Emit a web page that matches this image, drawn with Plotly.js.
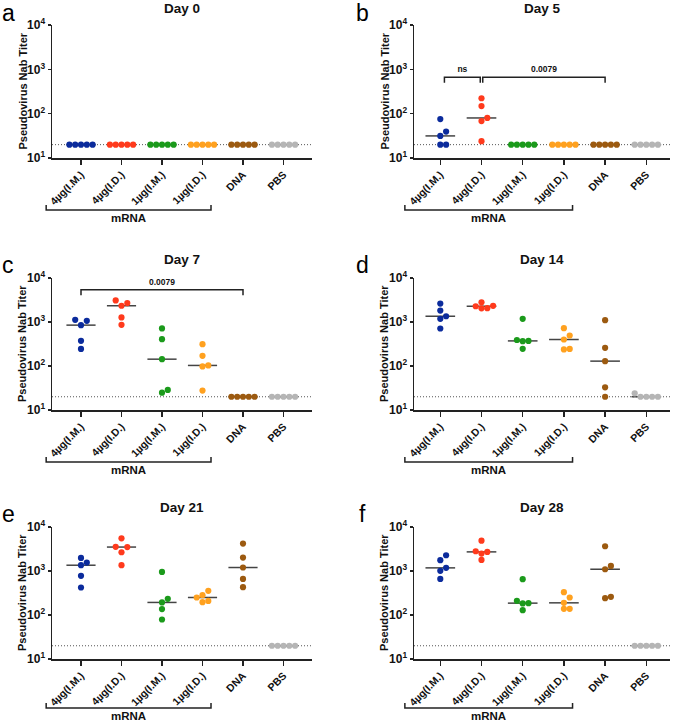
<!DOCTYPE html>
<html>
<head>
<meta charset="utf-8">
<script src="https://cdn.plot.ly/plotly-3.0.1.min.js"></script>
<style>html,body{margin:0;padding:0;background:#fff}#chart{width:675px;height:723px}</style>
</head>
<body>
<div id="chart"></div>
<script>
// ---------------- data ----------------
const groups = ['4µg(I.M.)', '4µg(I.D.)', '1µg(I.M.)', '1µg(I.D.)', 'DNA', 'PBS'];
const dayTitles = ['Day 0', 'Day 5', 'Day 7', 'Day 14', 'Day 21', 'Day 28'];
const panelLetters = ['a', 'b', 'c', 'd', 'e', 'f'];
const lod = 20;
const yTickVals = [10, 100, 1000, 10000];
const yTickText = ['10<sup>1</sup>', '10<sup>2</sup>', '10<sup>3</sup>', '10<sup>4</sup>'];

// titers per group: [4µg IM, 4µg ID, 1µg IM, 1µg ID, DNA, PBS]
const day0 = [
  [20, 20, 20, 20, 20], [20, 20, 20, 20, 20], [20, 20, 20, 20, 20],
  [20, 20, 20, 20, 20], [20, 20, 20, 20, 20], [20, 20, 20, 20, 20]
];
const day5 = [
  [75.7, 39.5, 31.5, 20, 20], [223, 148, 80, 68, 24], [20, 20, 20, 20, 20],
  [20, 20, 20, 20, 20], [20, 20, 20, 20, 20], [20, 20, 20, 20, 20]
];
const day7 = [
  [1122, 1065, 849, 373, 245], [3090, 2690, 2340, 1268, 863], [713, 407, 143, 28.6, 24.8],
  [313, 170, 103, 98, 27.6], [20, 20, 20, 20, 20], [20, 20, 20, 20, 20]
];
const day14 = [
  [2625, 1820, 1352, 1178, 711], [2810, 2330, 2280, 2060, 2050], [1180, 390, 372, 367, 246],
  [725, 493, 400, 245, 238], [1100, 259, 129, 32.7, 20], [23.9, 20, 20, 20, 20]
];
const day21 = [
  [1986, 1557, 1353, 777, 422], [5540, 3550, 3500, 2670, 1353], [955, 233, 193, 136, 79],
  [355, 282, 250, 209, 196], [4200, 2020, 1200, 661, 430], [20, 20, 20, 20, 20]
];
const day28 = [
  [2280, 1758, 1178, 1007, 661], [4900, 2810, 2720, 2490, 1787], [652, 210, 186, 183, 129],
  [331, 250, 189, 138, 138], [3650, 1306, 1097, 259, 241], [20, 20, 20, 20, 20]
];
const allDays = [day0, day5, day7, day14, day21, day28];

// significance brackets
const sigPanels = [1, 1, 2];
const sigFrom = [0, 1, 0];
const sigTo = [1, 4, 4];
const sigLabels = ['ns', '0.0079', '0.0079'];
const sigLevel = [667, 667, 5410];

// ---------------- style / layout ----------------
const colors = ['#0b2b9c', '#ff3a1c', '#1b9a1b', '#ffa11f', '#9c5a10', '#b5b5b5'];
const W = 675, H = 723;
const FONT = 'Liberation Sans, Arial, sans-serif';
const cols = [
  {x0: 52, x1: 312, c0: 81, sp: 40.5},
  {x0: 414, x1: 670, c0: 440.3, sp: 41.2}
];
const rows = [
  {top: 25, bot: 158},
  {top: 278, bot: 410},
  {top: 527, bot: 659}
];

function median(a) {
  const s = a.slice().sort((p, q) => p - q);
  const n = s.length;
  return n % 2 ? s[(n - 1) / 2] : (s[n / 2 - 1] + s[n / 2]) / 2;
}

// beeswarm style horizontal spread (pixel based)
function swarm(vals, pxDec, spPx) {
  const D = 5.8, S = 5.8;
  const idx = vals.map((v, i) => i).sort((a, b) => vals[a] - vals[b]);
  const placed = [];
  const off = new Array(vals.length).fill(0);
  idx.forEach(i => {
    const y = Math.log10(vals[i]) * pxDec;
    for (let k = 0; k < 30; k++) {
      const m = k === 0 ? 0 : (k % 2 ? (k + 1) / 2 : -k / 2);
      const x = m * S;
      if (placed.every(p => Math.hypot(p.x - x, p.y - y) >= D - 0.01)) {
        placed.push({x, y});
        off[i] = x / spPx;
        break;
      }
    }
  });
  return off;
}

const px = v => v / W;
const py = v => 1 - v / H;

const traces = [];
const layout = {
  width: W, height: H,
  margin: {l: 0, r: 0, t: 0, b: 0},
  paper_bgcolor: '#fff', plot_bgcolor: '#fff',
  showlegend: false,
  font: {family: FONT, color: '#111'},
  annotations: [],
  shapes: []
};

for (let p = 0; p < 6; p++) {
  const c = cols[p % 2], r = rows[Math.floor(p / 2)];
  const suf = p === 0 ? '' : String(p + 1);
  const xa = 'x' + suf, ya = 'y' + suf;
  const xr = [(c.x0 - c.c0) / c.sp, (c.x1 - c.c0) / c.sp];
  const pxDec = (r.bot - r.top) / 3;

  layout['xaxis' + suf] = {
    domain: [px(c.x0), px(c.x1)], range: xr, anchor: ya,
    tickvals: [0, 1, 2, 3, 4, 5], ticktext: groups, tickangle: -45,
    showline: true, linecolor: '#222', linewidth: 1.5,
    ticks: 'outside', ticklen: 5, tickwidth: 1.5, tickcolor: '#222',
    showgrid: false, zeroline: false, fixedrange: true,
    tickfont: {family: FONT, size: 10.5, weight: 'bold', color: '#111'}
  };
  layout['yaxis' + suf] = {
    domain: [py(r.bot), py(r.top)], type: 'log', range: [1, 4], anchor: xa,
    tickvals: yTickVals, ticktext: yTickText,
    showline: true, linecolor: '#222', linewidth: 1.5,
    ticks: 'outside', ticklen: 3, tickwidth: 1.5, tickcolor: '#222',
    showgrid: false, zeroline: false, fixedrange: true,
    tickfont: {family: FONT, size: 12, weight: 'bold', color: '#111'}
  };

  // detection limit line
  traces.push({
    type: 'scatter', mode: 'lines', xaxis: xa, yaxis: ya,
    x: xr, y: [lod, lod], line: {color: '#555', width: 1, dash: '1px,2px'}, hoverinfo: 'skip'
  });

  const data = allDays[p];
  // median lines
  data.forEach((vals, g) => {
    const m = median(vals);
    traces.push({
      type: 'scatter', mode: 'lines', xaxis: xa, yaxis: ya,
      x: [g - 0.36, g + 0.36], y: [m, m],
      line: {color: '#444', width: 1.5}, hoverinfo: 'skip'
    });
  });
  // dots
  data.forEach((vals, g) => {
    const off = swarm(vals, pxDec, c.sp);
    traces.push({
      type: 'scatter', mode: 'markers', xaxis: xa, yaxis: ya,
      x: vals.map((v, i) => g + off[i]), y: vals,
      marker: {color: colors[g], size: 6.2, line: {width: 0}}, hoverinfo: 'skip'
    });
  });

  // titles
  layout.annotations.push({
    text: dayTitles[p], xref: 'paper', yref: 'paper',
    x: px((c.x0 + c.x1) / 2), y: py(Math.max(r.top - 19, 9)), xanchor: 'center', yanchor: 'middle',
    showarrow: false, font: {family: FONT, size: 13.5, weight: 'bold', color: '#111'}
  });
  layout.annotations.push({
    text: panelLetters[p], xref: 'paper', yref: 'paper',
    x: px(p % 2 ? 362 : 8), y: py(Math.max(r.top - 13, 13)), xanchor: 'center', yanchor: 'middle',
    showarrow: false, font: {family: FONT, size: 23, color: '#000'}
  });
  layout.annotations.push({
    text: 'Pseudovirus Nab Titer', xref: 'paper', yref: 'paper', textangle: -90,
    x: px(c.x0 - 30), y: py((r.top + r.bot) / 2), xanchor: 'center', yanchor: 'middle',
    showarrow: false, font: {family: FONT, size: 11, weight: 'bold', color: '#111'}
  });

  // mRNA bracket
  const bl = c.c0 - 0.86 * c.sp, br = c.c0 + 3.21 * c.sp;
  const by = Math.min(r.bot + 52, 708);
  layout.shapes.push({
    type: 'path', xref: 'paper', yref: 'paper',
    path: `M ${px(bl)} ${py(by - 5)} L ${px(bl)} ${py(by)} L ${px(br)} ${py(by)} L ${px(br)} ${py(by - 5)}`,
    line: {color: '#222', width: 1.5}
  });
  layout.annotations.push({
    text: 'mRNA', xref: 'paper', yref: 'paper',
    x: px((bl + br) / 2), y: py(by + 8), xanchor: 'center', yanchor: 'middle',
    showarrow: false, font: {family: FONT, size: 11.5, weight: 'bold', color: '#111'}
  });
}

// significance brackets
for (let s = 0; s < sigPanels.length; s++) {
  const p = sigPanels[s];
  const suf = p === 0 ? '' : String(p + 1);
  const xa = 'x' + suf, ya = 'y' + suf;
  const a = sigFrom[s] + (s === 0 ? 0.1 : (s === 1 ? 0.03 : 0)), b = sigTo[s] - (s === 0 ? 0.03 : 0);
  const lv = sigLevel[s], leg = lv * 0.75;
  traces.push({
    type: 'scatter', mode: 'lines', xaxis: xa, yaxis: ya,
    x: [a, a, b, b], y: [leg, lv, lv, leg],
    line: {color: '#222', width: 1.5}, hoverinfo: 'skip', cliponaxis: false
  });
  traces.push({
    type: 'scatter', mode: 'text', xaxis: xa, yaxis: ya,
    x: [(a + b) / 2], y: [lv * 1.45], text: [sigLabels[s]], textposition: 'middle center',
    textfont: {family: FONT, size: 8.5, weight: 'bold', color: '#111'}, hoverinfo: 'skip', cliponaxis: false
  });
}

Plotly.newPlot('chart', traces, layout, {staticPlot: true, displayModeBar: false});
</script>
</body>
</html>
